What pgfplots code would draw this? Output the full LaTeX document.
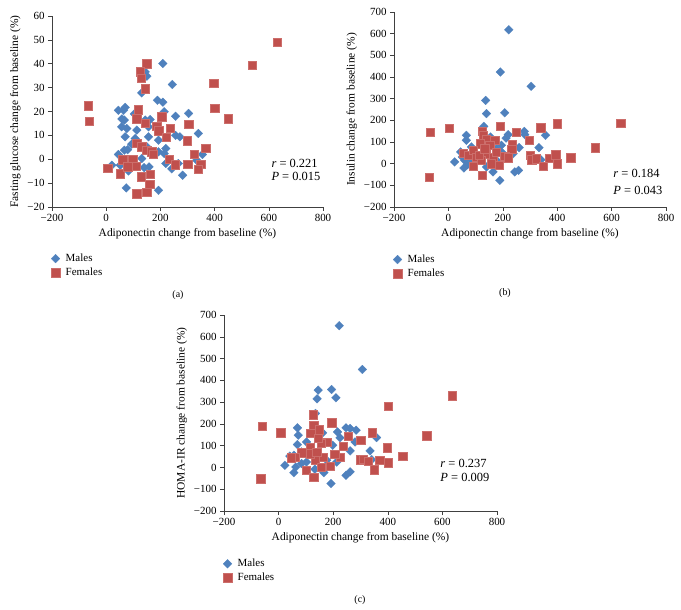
\documentclass[border=0pt]{standalone}
\usepackage{pgfplots}
\usepackage{pgfplotstable}
\pgfplotsset{compat=1.18}
\usepackage{fontspec}
\setmainfont{Liberation Serif}
\definecolor{mblue}{HTML}{4F81BD}
\definecolor{fred}{HTML}{C0504D}
\definecolor{fredl}{HTML}{CC6E6B}

% Panel (a): fasting glucose
\pgfplotstableread{
x y
209 40.1
150 34.8
144 36.6
244 31.3
131 27.8
189 24.7
209 23.9
45 20.5
70 21.7
64 20.5
214 19.9
304 19.2
104 19.0
58 16.9
67 16.4
162 16.6
144 16.4
256 18.0
57 13.6
76 12.9
113 12.2
156 13.6
70 9.4
156 9.4
193 8.0
107 8.7
256 10.0
272 9.4
340 10.8
94 6.3
79 4.0
67 3.8
150 5.2
193 3.1
220 4.5
214 2.4
45 2.0
355 2.0
334 -0.4
131 0.3
21 -2.5
52 -2.5
82 -4.9
140 -3.5
158 -3.2
220 -1.8
242 -4.0
266 -1.8
282 -6.7
74 -12.0
193 -13.0
119 -14.7
}\amales
\pgfplotstableread{
x y
632 49
539 39.4
396 31.9
400 21.3
450 17
150 40
125 36.6
129 34
144 29.5
-67 22.5
-62 16
119 20.8
113 17
205 17.8
187 13.8
193 12
236 12.9
221 9.3
305 14.7
298 7.8
144 15.2
113 6.6
131 5.2
150 3.8
168 3.1
174 2.1
324 2.1
367 4.7
5 -3.7
52 -6
61 -0.2
98 0.1
110 -2.8
232 0.1
254 -2.3
300 -2.1
348 -2
340 -4.2
129 -7.3
162 -6.3
161 -10.5
113 -14.4
150 -13.9
79 -3.2
}\afemales

% Panel (b): insulin
\pgfplotstableread{
x y
222 618
191 423
304 357
137 292
140 231
207 235
130 172
220 134
212 118
279 149
281 134
357 131
333 74
260 74
66 131
66 108
155 123
195 85
195 54
85 77
23 8
60 15
57 -20
81 23
70 -5
140 -15
164 -38
189 -77
244 -38
258 -31
340 18
238 46
177 69
97 15
45 54
51 31
177 15
152 31
}\bmales
\pgfplotstableread{
x y
633 188
540 74
399 185
340 166
2 165
-66 146
-71 -62
190 172
250 146
297 108
234 89
232 66
124 149
127 131
139 111
170 108
116 92
152 85
54 49
72 38
91 62
103 31
139 46
164 31
207 34
219 28
158 0
186 -8
91 -12
121 15
125 -54
300 38
306 18
322 23
349 -11
370 26
395 41
399 0
450 28
113 38
176 54
133 69
}\bfemales

% Panel (c): HOMA-IR
\pgfplotstableread{
x y
222 651
307 450
194 358
145 355
141 315
210 320
135 248
69 182
72 148
69 105
247 182
262 179
284 171
216 163
161 159
359 137
225 136
280 117
335 76
262 76
198 102
102 117
84 71
56 56
41 52
23 10
63 2
56 -24
133 -8
166 -24
192 -74
247 -36
262 -20
341 36
213 25
176 33
102 25
84 18
}\cmales
\pgfplotstableread{
x y
635 329
543 145
402 281
398 90
342 159
8 159
-60 190
-65 -51
194 206
127 243
129 194
148 174
176 117
117 156
255 144
301 125
236 97
155 110
115 94
84 67
60 48
225 48
206 61
163 48
133 33
157 2
188 5
102 -13
129 -44
301 36
310 39
329 29
350 -10
370 33
402 22
454 52
47 44
115 64
139 71
145 133
}\cfemales

\pgfplotsset{
  myaxis/.style={
    scale only axis,
    anchor=south west,
    axis x line*=bottom,
    axis y line*=left,
    axis line style={black!75, line width=0.5pt},
    tick style={black!75, line width=0.5pt},
    tick align=outside,
    major tick length=4bp,
    xmin=-200, xmax=800,
    xtick={-200,0,200,400,600,800},
    xticklabels={−200,0,200,400,600,800},
    tick label style={font=\fontsize{11}{13}\selectfont},
    label style={font=\fontsize{11.5}{13}\selectfont},
    xlabel={Adiponectin change from baseline (\%)},
    clip=false,
    legend style={at={(-0.005,-0.235)}, anchor=north west, draw=none, fill=none,
      font=\fontsize{11}{13}\selectfont, row sep=1bp, inner sep=0bp,
      nodes={inner xsep=2bp}},
    legend cell align=left,
    legend image code/.code={\path (-4.5bp,0bp) (8bp,0bp);
      \draw[##1, only marks] plot coordinates {(0bp,0bp)};},
  },
  males/.style={only marks, mark=square*, mark size=3.1bp,
    mark options={rotate=45, fill=mblue, draw=mblue, line width=0.2pt}},
  females/.style={only marks, mark=square*, mark size=4.2bp,
    mark options={fill=fred, draw=fredl, line width=0.4pt}},
}

\begin{document}
\begin{tikzpicture}
\useasboundingbox (0,0) rectangle (681bp,610bp);

% (a)
\begin{axis}[myaxis, at={(52bp,403bp)}, width=271bp, height=191bp,
  ymin=-20, ymax=60,
  ytick={-20,-10,0,10,20,30,40,50,60},
  yticklabels={−20,−10,0,10,20,30,40,50,60},
  ylabel={Fasting glucose change from baseline (\%)}]
\addplot[males] table {\amales};
\addplot[females] table {\afemales};
\legend{Males, Females}
\node[anchor=west, font=\fontsize{12.5}{14}\selectfont] at (axis cs:597,-1.6) {\textit{r} = 0.221};
\node[anchor=west, font=\fontsize{12.5}{14}\selectfont] at (axis cs:597,-7.3) {\textit{P} = 0.015};
\end{axis}

% (b)
\begin{axis}[myaxis, at={(394bp,403bp)}, width=272bp, height=195bp,
  ymin=-200, ymax=700,
  ytick={-200,-100,0,100,200,300,400,500,600,700},
  yticklabels={−200,−100,0,100,200,300,400,500,600,700},
  ylabel={Insulin change from baseline (\%)}]
\addplot[males] table {\bmales};
\addplot[females] table {\bfemales};
\legend{Males, Females}
\node[anchor=west, font=\fontsize{12.5}{14}\selectfont] at (axis cs:594,-43) {\textit{r} = 0.184};
\node[anchor=west, font=\fontsize{12.5}{14}\selectfont] at (axis cs:594,-122) {\textit{P} = 0.043};
\end{axis}

% (c)
\begin{axis}[myaxis, at={(224bp,99bp)}, width=273bp, height=196bp,
  ymin=-200, ymax=700,
  ytick={-200,-100,0,100,200,300,400,500,600,700},
  yticklabels={−200,−100,0,100,200,300,400,500,600,700},
  ylabel={HOMA-IR change from baseline (\%)}]
\addplot[males] table {\cmales};
\addplot[females] table {\cfemales};
\legend{Males, Females}
\node[anchor=west, font=\fontsize{12.5}{14}\selectfont] at (axis cs:580,20) {\textit{r} = 0.237};
\node[anchor=west, font=\fontsize{12.5}{14}\selectfont] at (axis cs:580,-44) {\textit{P} = 0.009};
\end{axis}

\node[font=\fontsize{10}{12}\selectfont] at (178bp,315bp) {(a)};
\node[font=\fontsize{10}{12}\selectfont] at (505bp,317bp) {(b)};
\node[font=\fontsize{10}{12}\selectfont] at (360bp,10bp) {(c)};
\end{tikzpicture}
\end{document}
